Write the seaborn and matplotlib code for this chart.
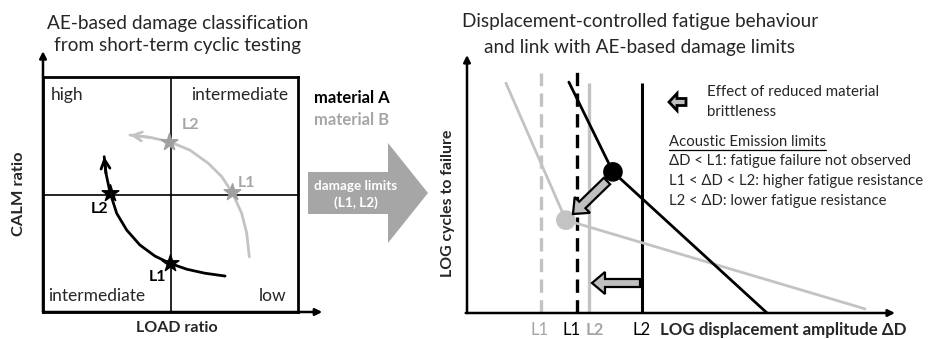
import matplotlib
matplotlib.use("Agg")
import matplotlib.pyplot as plt
from matplotlib.patches import FancyArrow
from matplotlib.transforms import offset_copy
import seaborn as sns

# ---------------- data (schematic, normalised units) ----------------
# Left panel: LOAD ratio (x) vs CALM ratio (y)
LOAD_A = [0.714, 0.635, 0.564, 0.498, 0.439, 0.380, 0.328, 0.289, 0.263, 0.247, 0.240]
CALM_A = [0.153, 0.165, 0.182, 0.207, 0.238, 0.285, 0.349, 0.420, 0.508, 0.590, 0.661]
LOAD_B = [0.809, 0.799, 0.779, 0.742, 0.701, 0.648, 0.576, 0.495, 0.420, 0.341]
CALM_B = [0.235, 0.335, 0.420, 0.509, 0.576, 0.633, 0.689, 0.725, 0.743, 0.753]
STAR_A_LOAD = [0.498, 0.263]
STAR_A_CALM = [0.207, 0.508]
STAR_B_LOAD = [0.742, 0.495]
STAR_B_CALM = [0.509, 0.725]
STAR_LABELS = ["L1", "L2"]
QUADRANTS = ["high", "intermediate", "intermediate", "low"]

# Right panel: LOG displacement amplitude (x) vs LOG cycles to failure (y)
DISP_A = [0.238, 0.341, 0.701]
CYC_A = [0.895, 0.547, 0.000]
DISP_B = [0.091, 0.231, 0.930]
CYC_B = [0.891, 0.360, 0.016]
L1_A, L2_A = 0.257, 0.409
L1_B, L2_B = 0.173, 0.285
TOP_L1_A, TOP_L2_A = 0.934, 0.891
TOP_L1_B, TOP_L2_B = 0.930, 0.891
LIMIT_POS = [L1_B, L1_A, L2_B, L2_A]
LIMIT_LABELS = ["L1", "L1", "L2", "L2"]

AE_LINES = ["ΔD < L1: fatigue failure not observed",
            "L1 < ΔD < L2: higher fatigue resistance",
            "L2 < ΔD: lower fatigue resistance"]

# ---------------- style ----------------
sns.set_theme(style="white")
FONT = ["Lato", "DejaVu Sans"]
plt.rcParams["font.family"] = FONT
BLACK = "#000000"
GREY_LINE = "#c3c3c3"
GREY_TXT = "#a6a6a6"
GREY_STAR = "#a0a0a0"
W, H = 936, 339

fig = plt.figure(figsize=(W / 100, H / 100), dpi=100)
fig.patch.set_facecolor("white")


def px_axes(l, t, r, b):
    return fig.add_axes([l / W, (H - b) / H, (r - l) / W, (b - t) / H])


# ---------------- left panel ----------------
axL = px_axes(43, 77, 298, 312)
axL.set_xlim(0, 1)
axL.set_ylim(0, 1)
axL.set_xticks([])
axL.set_yticks([])
for s in axL.spines.values():
    s.set_linewidth(2.0)
    s.set_color(BLACK)
axL.axvline(0.5, color=BLACK, lw=1.2)
axL.axhline(0.5, color=BLACK, lw=1.2)
axL.annotate("", xy=(0, 1.11), xytext=(0, 0), xycoords="axes fraction",
             arrowprops=dict(arrowstyle="-|>", lw=1.8, color=BLACK, mutation_scale=10,
                             shrinkA=0, shrinkB=0), annotation_clip=False)
axL.annotate("", xy=(1.095, 0), xytext=(0, 0), xycoords="axes fraction",
             arrowprops=dict(arrowstyle="-|>", lw=1.8, color=BLACK, mutation_scale=10,
                             shrinkA=0, shrinkB=0), annotation_clip=False)

sns.lineplot(x=LOAD_B, y=CALM_B, sort=False, ax=axL, color=GREY_LINE, lw=2.0, estimator=None)
sns.lineplot(x=LOAD_A, y=CALM_A, sort=False, ax=axL, color=BLACK, lw=2.0, estimator=None)
axL.annotate("", xy=(LOAD_B[-1], CALM_B[-1]), xytext=(LOAD_B[-2], CALM_B[-2]),
             arrowprops=dict(arrowstyle="->", lw=2.0, color=GREY_LINE, mutation_scale=16,
                             shrinkA=0, shrinkB=0))
axL.annotate("", xy=(LOAD_A[-1], CALM_A[-1]), xytext=(LOAD_A[-2], CALM_A[-2]),
             arrowprops=dict(arrowstyle="->", lw=2.0, color=BLACK, mutation_scale=16,
                             shrinkA=0, shrinkB=0))
sns.scatterplot(x=STAR_B_LOAD, y=STAR_B_CALM, ax=axL, marker="*", s=160, color=GREY_STAR,
                edgecolor=GREY_STAR, zorder=5)
sns.scatterplot(x=STAR_A_LOAD, y=STAR_A_CALM, ax=axL, marker="*", s=160, color=BLACK,
                edgecolor=BLACK, zorder=5)
# star labels
axL.text(STAR_A_LOAD[0] - 0.05, STAR_A_CALM[0] - 0.06, STAR_LABELS[0], ha="center", va="center",
         fontsize=11.5, fontweight="bold", color=BLACK)
axL.text(STAR_A_LOAD[1] - 0.04, STAR_A_CALM[1] - 0.07, STAR_LABELS[1], ha="center", va="center",
         fontsize=11.5, fontweight="bold", color=BLACK)
axL.text(STAR_B_LOAD[0] + 0.02, STAR_B_CALM[0] + 0.04, STAR_LABELS[0], ha="left", va="center",
         fontsize=11.5, fontweight="bold", color=GREY_TXT)
axL.text(STAR_B_LOAD[1] + 0.05, STAR_B_CALM[1] + 0.07, STAR_LABELS[1], ha="left", va="center",
         fontsize=11.5, fontweight="bold", color=GREY_TXT)
# quadrant labels
axL.text(0.03, 0.925, QUADRANTS[0], ha="left", va="center", fontsize=12.5)
axL.text(0.96, 0.925, QUADRANTS[1], ha="right", va="center", fontsize=12.5)
axL.text(0.02, 0.07, QUADRANTS[2], ha="left", va="center", fontsize=12.5)
axL.text(0.955, 0.07, QUADRANTS[3], ha="right", va="center", fontsize=12.5)
axL.patch.set_alpha(0)

# ---------------- right panel ----------------
axR = px_axes(467, 55, 895, 313)
axR.set_xlim(0, 1)
axR.set_ylim(0, 1)
for s in axR.spines.values():
    s.set_visible(False)
axR.set_yticks([])
axR.set_xticks([])
axR.annotate("", xy=(0, 1.0), xytext=(0, 0), xycoords="axes fraction",
             arrowprops=dict(arrowstyle="-|>", lw=1.8, color=BLACK, mutation_scale=10,
                             shrinkA=0, shrinkB=0), annotation_clip=False)
axR.annotate("", xy=(1.0, 0), xytext=(-0.003, 0), xycoords="axes fraction",
             arrowprops=dict(arrowstyle="-|>", lw=1.8, color=BLACK, mutation_scale=10,
                             shrinkA=0, shrinkB=0), annotation_clip=False)

# limit labels under the axis
xform = axR.get_xaxis_transform()
for pos, lab, c, dx, wt in zip(LIMIT_POS, LIMIT_LABELS, [GREY_TXT, BLACK, GREY_TXT, BLACK],
                               [-1, -5, 6, 0], ["normal", "normal", "bold", "normal"]):
    axR.text(pos, 0, lab, transform=offset_copy(xform, fig=fig, x=dx, y=-17, units="dots"),
             ha="center", va="center", fontsize=12, color=c, fontweight=wt)

axR.vlines(L1_B, 0, TOP_L1_B, colors=GREY_LINE, lw=2.4, linestyles=(0, (4, 2.2)))
axR.vlines(L1_A, 0, TOP_L1_A, colors=BLACK, lw=2.4, linestyles=(0, (4, 2.2)))
axR.vlines(L2_B, 0, TOP_L2_B, colors=GREY_LINE, lw=2.4)
axR.vlines(L2_A, 0, TOP_L2_A, colors=BLACK, lw=2.2)
sns.lineplot(x=DISP_B, y=CYC_B, sort=False, ax=axR, color=GREY_LINE, lw=2.0, estimator=None)
sns.lineplot(x=DISP_A, y=CYC_A, sort=False, ax=axR, color=BLACK, lw=2.0, estimator=None)
sns.scatterplot(x=[DISP_B[1]], y=[CYC_B[1]], ax=axR, s=200, color=GREY_LINE, edgecolor="none", zorder=5)
sns.scatterplot(x=[DISP_A[1]], y=[CYC_A[1]], ax=axR, s=200, color=BLACK, edgecolor="none", zorder=5)
axR.patch.set_alpha(0)

# ---------------- overlay (free text and block arrows, pixel units) ----------------
ov = fig.add_axes([0, 0, 1, 1], zorder=10)
ov.set_xlim(0, W)
ov.set_ylim(H, 0)
ov.axis("off")
ov.patch.set_alpha(0)

ov.text(178, 23, "AE-based damage classification", ha="center", va="center", fontsize=13.7)
ov.text(178, 46, "from short-term cyclic testing", ha="center", va="center", fontsize=13.7)
ov.text(640, 22, "Displacement-controlled fatigue behaviour", ha="center", va="center", fontsize=13.7)
ov.text(640, 47, "and link with AE-based damage limits", ha="center", va="center", fontsize=13.7)

ov.text(19, 194, "CALM ratio", rotation=90, ha="center", va="center", fontsize=11.8, fontweight="bold")
ov.text(177, 328, "LOAD ratio", ha="center", va="center", fontsize=11.5, fontweight="bold")
ov.text(448, 203, "LOG cycles to failure", rotation=90, ha="center", va="center", fontsize=11.4,
        fontweight="bold")
ov.text(660, 330, "LOG displacement amplitude ΔD", ha="left", va="center", fontsize=12.2,
        fontweight="bold")

ov.text(314, 98, "material A", ha="left", va="center", fontsize=12, fontweight="bold", color=BLACK)
ov.text(314, 120, "material B", ha="left", va="center", fontsize=12, fontweight="bold", color=GREY_TXT)

# central block arrow
ov.add_patch(FancyArrow(308, 193, 120, 0, width=42, head_width=100, head_length=40,
                        length_includes_head=True, fc="#a6a6a6", ec="none"))
ov.text(356, 186, "damage limits", ha="center", va="center", fontsize=9.7, color="white",
        fontweight="bold")
ov.text(356, 203, "(L1, L2)", ha="center", va="center", fontsize=9.7, color="white",
        fontweight="bold")

# small block arrows (grey with black outline)
for (x0, y0, dx, dy, w, hw, hl, lw) in [(607, 181, -34, 33, 9, 22, 13, 1.6),
                                         (640, 283, -48, 0, 8, 22, 13, 1.6),
                                         (686, 102, -17, 0, 7, 17, 8, 2.0)]:
    ov.add_patch(FancyArrow(x0, y0, dx, dy, width=w, head_width=hw, head_length=hl,
                            length_includes_head=True, fc="#bfbfbf", ec=BLACK, lw=lw))

ov.text(707, 92, "Effect of reduced material", ha="left", va="center", fontsize=10.8)
ov.text(707, 112, "brittleness", ha="left", va="center", fontsize=10.8)
ae = ov.text(669, 142, "Acoustic Emission limits", ha="left", va="center", fontsize=10.7)
for i, line in enumerate(AE_LINES):
    ov.text(669, 161 + 20 * i, line, ha="left", va="center", fontsize=10.7)

# underline the AE heading
fig.canvas.draw()
bb = ae.get_window_extent(renderer=fig.canvas.get_renderer())
(x0, y0), (x1, y1) = ov.transData.inverted().transform([[bb.x0, bb.y0], [bb.x1, bb.y1]])
ov.plot([x0, x1], [y0 + 0.5, y0 + 0.5], color=BLACK, lw=0.9)

fig.savefig("out.png", dpi=100, facecolor="white")
